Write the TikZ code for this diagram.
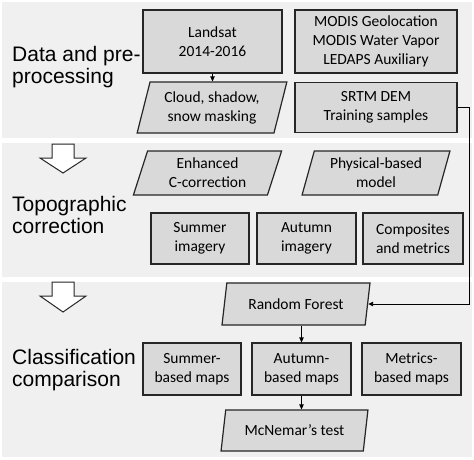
\documentclass[tikz,border=0pt]{standalone}
\usepackage{fontspec}
\setmainfont{Carlito}
\newfontfamily\stagefont{Liberation Sans}
\usetikzlibrary{shapes.geometric,arrows.meta}
\definecolor{bandgray}{HTML}{F0F0F0}
\definecolor{boxgray}{HTML}{D9D9D9}
\definecolor{edgegray}{HTML}{262626}

\begin{document}
\begin{tikzpicture}[x=1pt,y=-1pt,
    band/.style={fill=bandgray},
    box/.style={draw=edgegray,line width=1.2pt,fill=boxgray,align=center,inner sep=0pt,
      font=\fontsize{15.5}{19}\selectfont},
    para/.style={box,trapezium,trapezium left angle=73,trapezium right angle=107,
      trapezium stretches},
    stage/.style={anchor=west,align=left,inner sep=0pt,
      font=\stagefont\fontsize{21}{22}\selectfont},
    link/.style={-{Triangle[length=5pt,width=4.5pt]},line width=0.9pt},
    hollow/.style={draw=edgegray,line width=1pt,fill=white}]
\useasboundingbox (0,0) rectangle (474,460);
\fill[band] (2,2) rectangle (472,138) ; % data
\fill[band] (2,143) rectangle (472,277) ; % topo
\fill[band] (2,282) rectangle (472,457) ; % classif
\draw[hollow] (52,144) -- (74,144) -- (74,158) -- (86,158) -- (63,173) -- (40,158) -- (52,158) -- cycle ;
\draw[hollow] (52,282) -- (74,282) -- (74,296) -- (86,296) -- (63,312) -- (40,296) -- (52,296) -- cycle ;
\node[stage] (stagedata) at (12,67) {Data and pre-\\processing};
\node[stage] (stagetopo) at (12,215) {Topographic\\correction};
\node[stage] (stageclass) at (12,370.5) {Classification\\comparison};
\node[box,minimum width=139pt,minimum height=63pt] (landsat) at (212.5,41.5) {Landsat\\2014-2016};
\node[box,minimum width=162pt,minimum height=63pt] (modis) at (376,41.5) {MODIS Geolocation\\MODIS Water Vapor\\LEDAPS Auxiliary};
\node[para,minimum width=150pt,minimum height=51pt] (cloud) at (212,107.5) {Cloud, shadow,\\snow masking};
\node[box,minimum width=162pt,minimum height=50pt] (srtm) at (376,107.5) {SRTM DEM\\Training samples};
\node[para,minimum width=149pt,minimum height=44pt] (ecorr) at (207.5,173) {Enhanced\\C-correction};
\node[para,minimum width=148pt,minimum height=44pt] (physical) at (376,173) {Physical-based\\model};
\node[box,minimum width=98pt,minimum height=51pt] (summerimg) at (200,238.5) {Summer\\imagery};
\node[box,minimum width=99pt,minimum height=51pt] (autumnimg) at (306.5,238.5) {Autumn\\imagery};
\node[box,minimum width=100pt,minimum height=51pt] (composites) at (413,238.5) {Composites\\and metrics};
\node[para,minimum width=148pt,minimum height=42pt] (rf) at (296,304) {Random Forest};
\node[box,minimum width=98pt,minimum height=52pt] (summermap) at (192,369) {Summer-\\based maps};
\node[box,minimum width=99pt,minimum height=52pt] (autumnmap) at (301.5,369) {Autumn-\\based maps};
\node[box,minimum width=99pt,minimum height=52pt] (metricsmap) at (411.5,369) {Metrics-\\based maps};
\node[para,minimum width=147pt,minimum height=41pt] (mcnemar) at (294.5,430.5) {McNemar’s test};
\draw[link] (landsat.south) -- (landsat.south |- cloud.north) ;
\draw[link] (srtm.east) -- ++(12,0) |- (rf.east) ;
\draw[link] (autumnmap.north |- rf.south) -- (autumnmap.north) ;
\draw[link] (autumnmap.south) -- (autumnmap.south |- mcnemar.north) ;
\end{tikzpicture}
\end{document}
